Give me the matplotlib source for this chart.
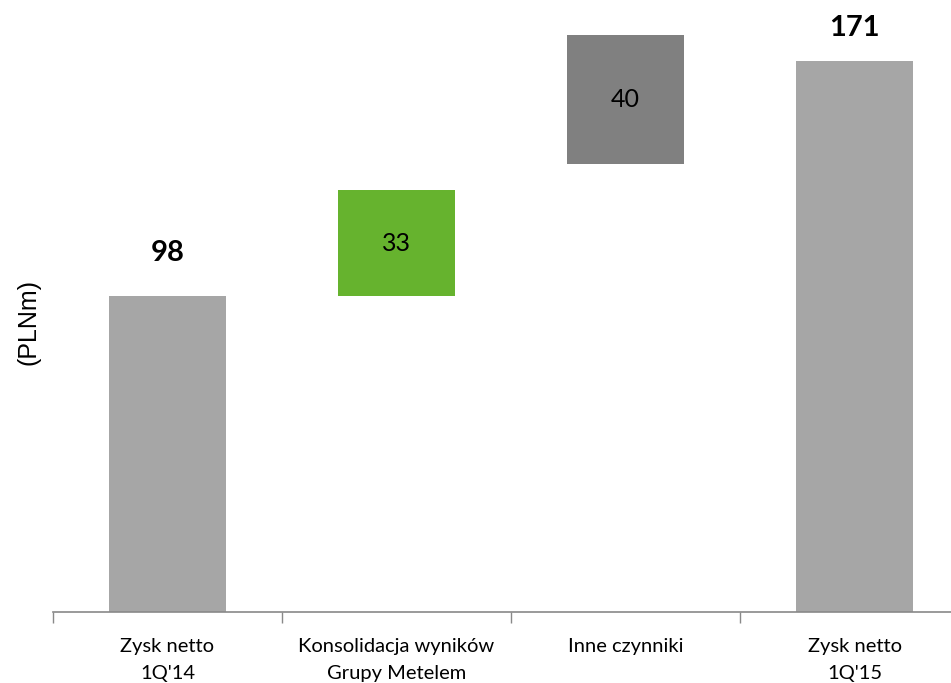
import matplotlib
matplotlib.use("Agg")
import matplotlib.pyplot as plt

categories = ["Zysk netto\n1Q'14", "Konsolidacja wyników\nGrupy Metelem", "Inne czynniki", "Zysk netto\n1Q'15"]
values = [98, 33, 40, 171]
bottoms = [0, 98, 139, 0]
labels = ["98", "33", "40", "171"]
colors = ["#A6A6A6", "#66B32E", "#808080", "#A6A6A6"]

plt.rcParams['font.family'] = ['Lato', 'DejaVu Sans']

fig = plt.figure(figsize=(9.51, 6.83), dpi=100)
ax = fig.add_axes([53/951, 71/683, (969-53)/951, 612/683])

x = list(range(len(categories)))
bars = ax.bar(x, values, bottom=bottoms, width=0.515, color=colors, zorder=2)

ax.set_xlim(-0.5, len(categories) - 0.5)
ax.set_ylim(0, 190)

for i, (b, v, lab) in enumerate(zip(bottoms, values, labels)):
    if i in (0, 3):
        off = 31 if i == 0 else 24
        ax.annotate(lab, (i, b + v), xytext=(0, off), textcoords='offset points',
                    ha='center', va='center', fontsize=21, fontweight='bold', color='black')
    else:
        ax.text(i, b + v / 2, lab, ha='center', va='center', fontsize=18, color='black')

for s in ['top', 'right', 'left']:
    ax.spines[s].set_visible(False)
ax.spines['bottom'].set_color('#898989')
ax.spines['bottom'].set_linewidth(1.2)
ax.set_yticks([])

ax.set_xticks([i - 0.5 for i in range(len(categories) + 1)], minor=False)
ax.set_xticklabels([])
ax.tick_params(axis='x', which='major', length=8, color='#898989', width=1)
ax.set_xticks(x, minor=True)
ax.set_xticklabels(categories, minor=True, fontsize=14.5, linespacing=1.7)
ax.tick_params(axis='x', which='minor', length=0, pad=19)

fig.text(29/951, 1 - 322/683, "(PLNm)", rotation=90, ha='center', va='center',
         fontsize=18, family=['Liberation Sans', 'DejaVu Sans'])

fig.savefig("out.png", dpi=100)
